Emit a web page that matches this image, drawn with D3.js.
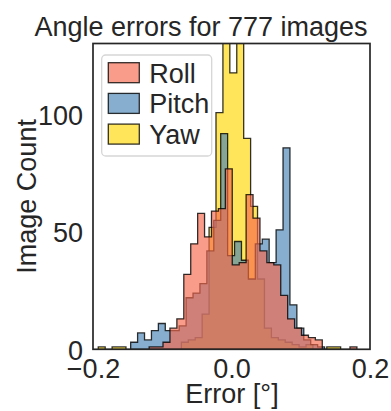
<!DOCTYPE html>
<html>
<head>
<meta charset="utf-8">
<script src="https://cdn.jsdelivr.net/npm/d3@7/dist/d3.min.js"></script>
<style>
  body { margin: 0; background: #fff; }
  text { font-family: "Liberation Sans", Arial, sans-serif; fill: #262626; }
</style>
</head>
<body>
<script>
const width = 391,
    height = 411;

// histogram data, bin width 0.01 deg, each series starts at its own minimum
const binWidth = 0.01;
const seriesNames = ["Roll", "Pitch", "Yaw"];
const rollStart = -0.1189;
const rollCounts = [1, 1, 3, 9, 13, 32, 45, 58, 48, 59, 60, 77, 36, 37, 66, 56, 42, 37, 36, 23, 13, 9, 6, 5, 4, 0, 0, 0, 0, 1];
const pitchStart = -0.1456;
const pitchCounts = [3, 7, 4, 8, 11, 8, 8, 10, 22, 24, 28, 42, 55, 92, 40, 46, 38, 30, 45, 47, 37, 51, 86, 19, 9, 4, 2, 1];
const yawStart = -0.1924;
const yawCounts = [1, 0, 1, 1, 0, 0, 0, 0, 0, 0, 0, 0, 3, 4, 5, 15, 52, 101, 135, 118, 132, 90, 61, 30, 9, 5, 4, 3, 2, 1, 2, 0, 0, 1, 1];
const xTicks = [-0.2, 0.0, 0.2];
const yTicks = [0, 50, 100];

const colors = { Roll: "#f6674a", Pitch: "#4682b4", Yaw: "#ffd700" };
const fillAlpha = 0.65;
const fontSize = "27px";

const margin = { left: 93, right: 21, top: 43.5, bottom: 61.7 };

const svg = d3.select("body").append("svg")
    .attr("width", width)
    .attr("height", height);

const x = d3.scaleLinear().domain([-0.2, 0.2]).range([margin.left, width - margin.right]);
const y = d3.scaleLinear().domain([0, 130.5]).range([height - margin.bottom, margin.top]);

svg.append("clipPath").attr("id", "plotclip")
  .append("rect")
    .attr("x", margin.left)
    .attr("y", margin.top)
    .attr("width", width - margin.left - margin.right)
    .attr("height", height - margin.top - margin.bottom);

function stepPoints(start, counts) {
  var pts = [[start, 0]];
  counts.forEach(function(c, i) {
    pts.push([start + i * binWidth, c]);
    pts.push([start + (i + 1) * binWidth, c]);
  });
  pts.push([start + counts.length * binWidth, 0]);
  return pts;
}

const line = d3.line().x(d => x(d[0])).y(d => y(d[1]));

// drawn bottom to top: Yaw, Pitch, Roll
const series = [
  { name: "Yaw", start: yawStart, counts: yawCounts },
  { name: "Pitch", start: pitchStart, counts: pitchCounts },
  { name: "Roll", start: rollStart, counts: rollCounts }
];

const plot = svg.append("g").attr("clip-path", "url(#plotclip)");

plot.selectAll("path.hist")
  .data(series)
  .enter().append("path")
    .attr("class", "hist")
    .attr("d", d => line(stepPoints(d.start, d.counts)) + "Z")
    .style("fill", d => colors[d.name])
    .style("fill-opacity", fillAlpha)
    .style("stroke", "#000")
    .style("stroke-opacity", 0.8)
    .style("stroke-width", 1.3)
    .style("stroke-linejoin", "miter");

// frame
svg.append("rect")
    .attr("x", margin.left)
    .attr("y", margin.top)
    .attr("width", width - margin.left - margin.right)
    .attr("height", height - margin.top - margin.bottom)
    .style("fill", "none")
    .style("stroke", "#262626")
    .style("stroke-width", 1.7);

// axes (no tick marks, only labels)
const xAxis = svg.append("g")
    .attr("transform", "translate(0," + (height - margin.bottom) + ")")
    .call(d3.axisBottom(x).tickValues(xTicks).tickSize(0).tickPadding(0).tickFormat(d3.format(".1f")));
xAxis.select(".domain").remove();
xAxis.selectAll("text")
    .attr("y", 29)
    .attr("dy", 0)
    .text(d => d3.format(".1f")(d).replace("-", "\u2212"))
    .style("font-size", fontSize);

const yAxis = svg.append("g")
    .attr("transform", "translate(" + margin.left + ",0)")
    .call(d3.axisLeft(y).tickValues(yTicks).tickSize(0).tickPadding(10));
yAxis.select(".domain").remove();
yAxis.selectAll("text")
    .attr("dy", "0.36em")
    .style("font-size", fontSize);

svg.append("text")
    .attr("x", 232)
    .attr("y", 403)
    .attr("text-anchor", "middle")
    .style("font-size", fontSize)
    .text("Error [°]");

svg.append("text")
    .attr("transform", "translate(36," + (margin.top + height - margin.bottom) / 2 + ") rotate(-90)")
    .attr("text-anchor", "middle")
    .style("font-size", fontSize)
    .text("Image Count");

svg.append("text")
    .attr("x", 201)
    .attr("y", 36)
    .attr("text-anchor", "middle")
    .style("font-size", fontSize)
    .text("Angle errors for 777 images");

// legend
const legend = svg.append("g").attr("transform", "translate(101.7,55)");
legend.append("rect")
    .attr("width", 110)
    .attr("height", 101)
    .attr("rx", 4)
    .style("fill", "#fff")
    .style("fill-opacity", 0.8)
    .style("stroke", "#d6d6d6")
    .style("stroke-width", 1.3);

const items = legend.selectAll("g.item")
  .data(seriesNames)
  .enter().append("g")
    .attr("class", "item")
    .attr("transform", (d, i) => "translate(6.6," + (7.7 + i * 30.7) + ")");
items.append("rect")
    .attr("width", 31)
    .attr("height", 20)
    .style("fill", d => colors[d])
    .style("fill-opacity", fillAlpha)
    .style("stroke", "#000")
    .style("stroke-opacity", 0.8)
    .style("stroke-width", 1.3);
items.append("text")
    .attr("x", 41)
    .attr("y", 20)
    .style("font-size", fontSize)
    .text(d => d);
</script>
</body>
</html>
